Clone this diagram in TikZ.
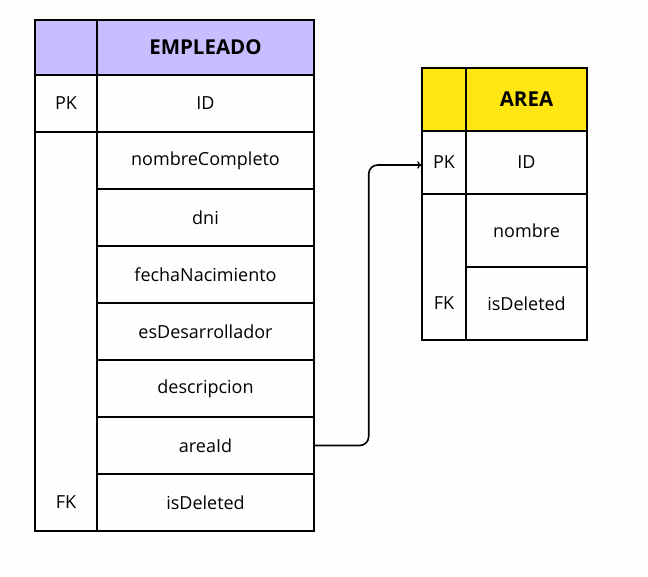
\documentclass[tikz,border=0pt]{standalone}
\usepackage{fontspec}
\setmainfont{Open Sans}
\definecolor{empcolor}{HTML}{C6BEFF}
\definecolor{areacolor}{HTML}{FFE612}
\begin{document}
\begin{tikzpicture}[x=1pt,y=-1pt]
    \tikzstyle{cell}=[draw, line width=1.4pt, inner sep=0pt, font=\fontsize{18}{21}\selectfont]
    \tikzstyle{head}=[font=\fontsize{20.5}{23}\selectfont\bfseries]

    \useasboundingbox (0,0) rectangle (648,576);
    % dotted background
    \foreach \x in {4,12,...,648}
        \foreach \y in {4,12,...,576}
            \fill[gray!22] (\x,\y) circle (0.7);

    % EMPLEADO
    \node[cell, fill=empcolor, minimum width=62, minimum height=55] (ekh) at (66,47.5) {};
    \node[cell, head, fill=empcolor, minimum width=217, minimum height=55] (eh) at (205.5,47.5) {EMPLEADO};
    \node[cell, minimum width=62, minimum height=57] (epk) at (66,103.5) {PK};
    \node[cell, minimum width=217, minimum height=57] (eid) at (205.5,103.5) {ID};
    \node[cell, minimum width=62, minimum height=399] (ekey) at (66,331.5) {};
    \node[cell, minimum width=217, minimum height=57] (enombre) at (205.5,160.5) {nombreCompleto};
    \node[cell, minimum width=217, minimum height=57] (edni) at (205.5,217.5) {dni};
    \node[cell, minimum width=217, minimum height=57] (efecha) at (205.5,274.5) {fechaNacimiento};
    \node[cell, minimum width=217, minimum height=57] (edes) at (205.5,331.5) {esDesarrollador};
    \node[cell, minimum width=217, minimum height=57] (edesc) at (205.5,388.5) {descripcion};
    \node[cell, minimum width=217, minimum height=57] (earea) at (205.5,445.5) {areaId};
    \node[cell, minimum width=217, minimum height=57] (edel) at (205.5,502.5) {isDeleted};
    \node[font=\fontsize{18}{21}\selectfont] (efk) at (66,502.5) {FK};

    % AREA
    \node[cell, fill=areacolor, minimum width=44, minimum height=63] (akh) at (444,99.5) {};
    \node[cell, head, fill=areacolor, minimum width=121, minimum height=63] (ah) at (526.5,99.5) {AREA};
    \node[cell, minimum width=44, minimum height=63] (apk) at (444,162.5) {PK};
    \node[cell, minimum width=121, minimum height=63] (aid) at (526.5,162.5) {ID};
    \node[cell, minimum width=44, minimum height=146] (akey) at (444,267) {};
    \node[cell, minimum width=121, minimum height=73] (anombre) at (526.5,230.5) {nombre};
    \node[cell, minimum width=121, minimum height=73] (adel) at (526.5,303.5) {isDeleted};
    \node[font=\fontsize{18}{21}\selectfont] (afk) at (444,303.5) {FK};

    \draw[->, line width=1.6pt, rounded corners=9pt] (earea.east) -- ++(54,0) |- ([yshift=-2.5]apk.west);
\end{tikzpicture}
\end{document}
